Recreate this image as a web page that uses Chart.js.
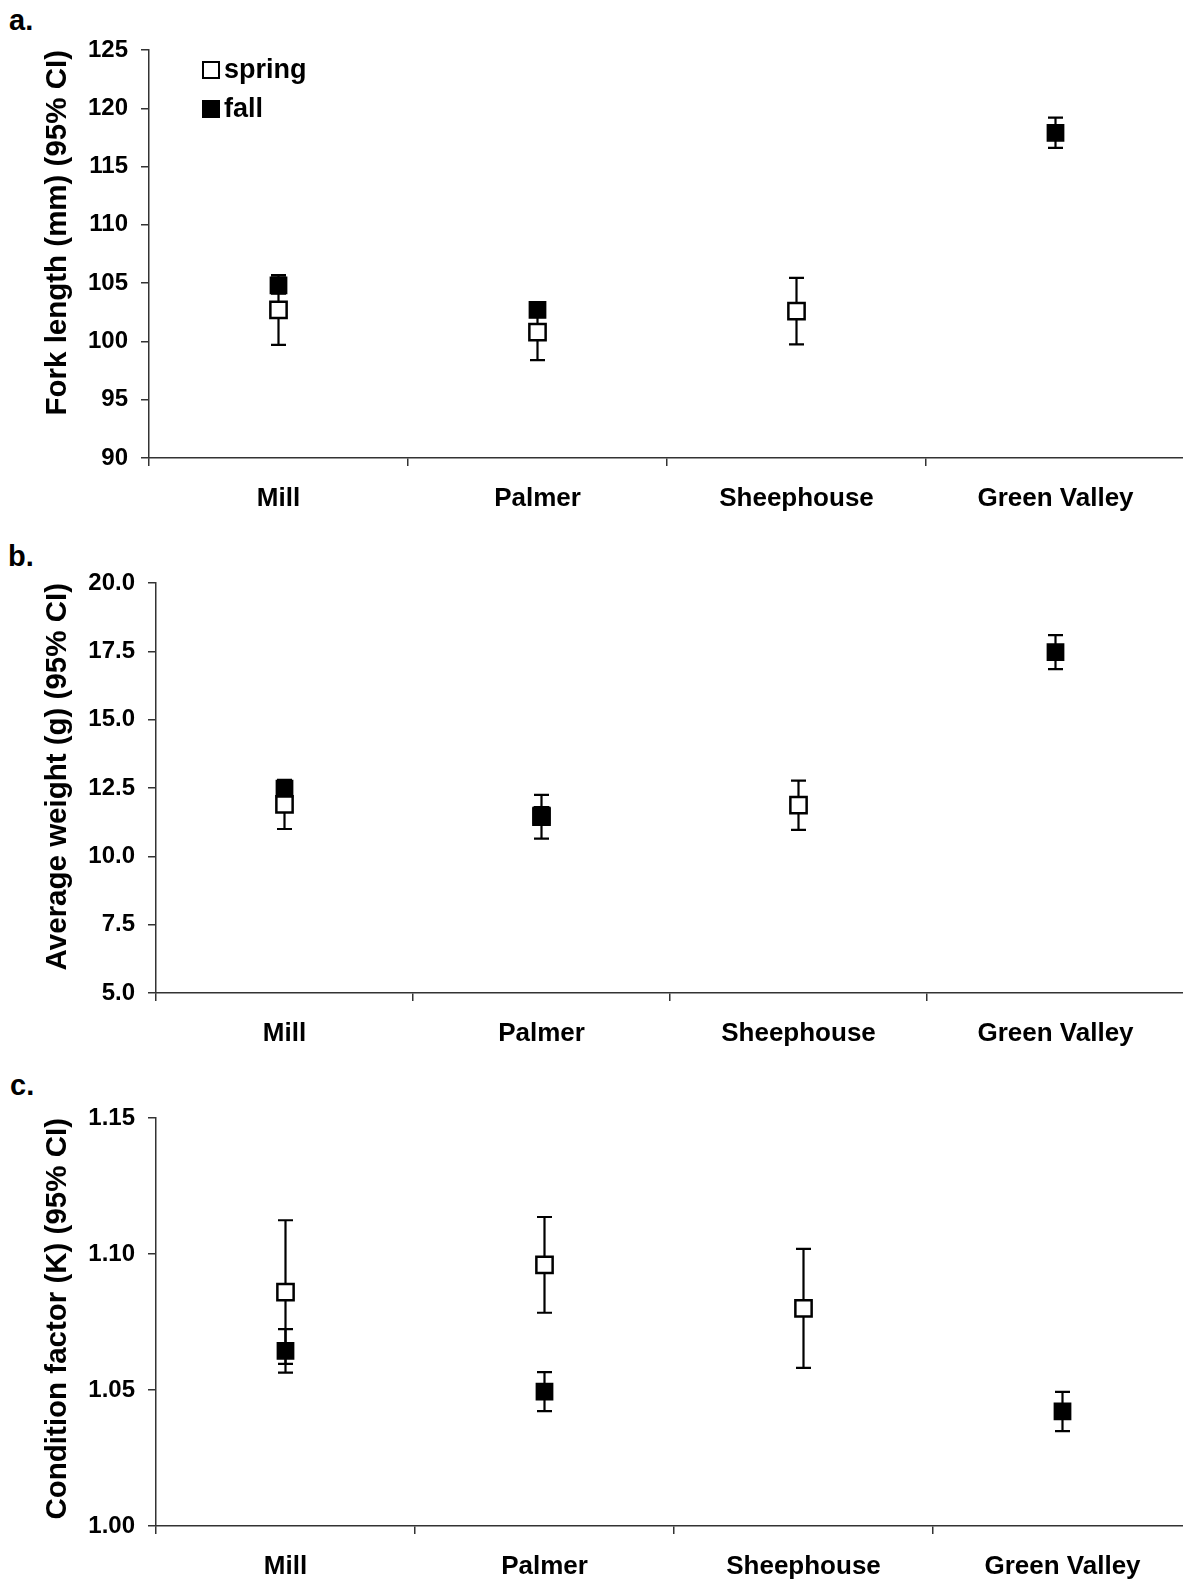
<!DOCTYPE html>
<html>
<head>
<meta charset="utf-8">
<script src="https://cdn.jsdelivr.net/npm/chart.js@4.4.0/dist/chart.umd.min.js"></script>
<style>
  body { margin: 0; background: #fff; width: 1183px; height: 1580px; overflow: hidden; position: relative; }
  canvas { position: absolute; left: 0; }
  .tag { position: absolute; font: bold 29px "Liberation Sans", Arial, sans-serif; line-height: 29px; color: #000; }
</style>
</head>
<body>
<div class="tag" style="left:9px; top:6px">a.</div>
<div class="tag" style="left:8px; top:542px">b.</div>
<div class="tag" style="left:10px; top:1071px">c.</div>
<canvas id="panelA"></canvas>
<canvas id="panelB"></canvas>
<canvas id="panelC"></canvas>
<script>
// Sites and seasons
var sites = ['Mill', 'Palmer', 'Sheephouse', 'Green Valley'];
var seasons = ['spring', 'fall'];

// a. fork length (mm), mean and 95% CI half-width
var lengthSpring = [102.7, 100.8, 102.6, null];
var lengthSpringCI = [3.0, 2.4, 2.85, null];
var lengthFall = [104.8, 102.7, null, 117.9];
var lengthFallCI = [0.7, 0.6, null, 1.3];
var lengthRange = [90, 125, 5];

// b. average weight (g)
var weightSpring = [11.9, 11.45, 11.87, null];
var weightSpringCI = [0.9, 0.8, 0.9, null];
var weightFall = [12.48, 11.5, null, 17.47];
var weightFallCI = [0.3, 0.3, null, 0.62];
var weightRange = [5, 20, 2.5];

// c. condition factor (K)
var kSpring = [1.086, 1.096, 1.080, null];
var kSpringCI = [0.0264, 0.0176, 0.0219, null];
var kFall = [1.0644, 1.0494, null, 1.0421];
var kFallCI = [0.008, 0.0072, null, 0.0072];
var kRange = [1.00, 1.15, 0.05];

var FONT = '"Liberation Sans", Arial, sans-serif';

// whiskers drawn under the markers
var errorBars = {
    id: 'errorBars',
    beforeDatasetsDraw: function (chart) {
        var ctx = chart.ctx, x = chart.scales.x, y = chart.scales.y;
        ctx.save();
        ctx.strokeStyle = '#000';
        ctx.lineWidth = 2.2;
        chart.data.datasets.forEach(function (ds) {
            ds.data.forEach(function (v, i) {
                if (v == null) return;
                var px = x.getPixelForValue(i);
                var top = y.getPixelForValue(v + ds.ci[i]);
                var bot = y.getPixelForValue(v - ds.ci[i]);
                ctx.beginPath();
                ctx.moveTo(px, top); ctx.lineTo(px, bot);
                ctx.moveTo(px - 7.5, top); ctx.lineTo(px + 7.5, top);
                ctx.moveTo(px - 7.5, bot); ctx.lineTo(px + 7.5, bot);
                ctx.stroke();
            });
        });
        ctx.restore();
    }
};

// legend in the top-left corner of the plot area
var seasonKey = {
    id: 'seasonKey',
    afterDraw: function (chart) {
        var ctx = chart.ctx, area = chart.chartArea;
        ctx.save();
        ctx.font = 'bold 27px ' + FONT;
        ctx.textBaseline = 'middle';
        chart.data.datasets.forEach(function (ds, i) {
            var bx = area.left + 54, cy = area.top + 20 + i * 39;
            ctx.fillStyle = ds.pointBackgroundColor;
            ctx.fillRect(bx, cy - 8, 16, 16);
            ctx.strokeStyle = '#000';
            ctx.lineWidth = 2;
            ctx.strokeRect(bx, cy - 8, 16, 16);
            ctx.fillStyle = '#000';
            ctx.fillText(ds.label, bx + 21, cy + 1);
        });
        ctx.restore();
    }
};

function buildPanel(o) {
    var canvas = document.getElementById(o.id);
    canvas.width = o.width;
    canvas.height = o.height;
    canvas.style.top = o.top + 'px';
    var pt = function (bg, bw) {
        return { pointStyle: 'rect', pointRadius: 11.5, pointHoverRadius: 11.5,
                 pointBackgroundColor: bg, pointBorderColor: '#000', pointBorderWidth: bw,
                 showLine: false };
    };
    return new Chart(canvas, {
        type: 'line',
        data: {
            labels: sites,
            datasets: [
                Object.assign({ label: seasons[0], data: o.spring, ci: o.springCI, order: 1 }, pt('#fff', 2.5)),
                Object.assign({ label: seasons[1], data: o.fall, ci: o.fallCI, order: 0 }, pt('#000', 1.5))
            ]
        },
        options: {
            responsive: false,
            animation: false,
            devicePixelRatio: 1,
            layout: { autoPadding: false,
                      padding: { top: o.areaTop, right: o.width - o.areaRight, left: 0, bottom: 0 } },
            plugins: { legend: { display: false }, tooltip: { enabled: false } },
            scales: {
                x: {
                    type: 'category',
                    offset: true,
                    grid: { offset: true, drawOnChartArea: false, tickLength: 8, color: '#333', lineWidth: 1.5 },
                    border: { color: '#333', width: 1.5 },
                    ticks: { padding: 17, color: '#000', autoSkip: false, maxRotation: 0,
                             font: { family: FONT, size: 26, weight: 'bold' } },
                    afterFit: function (s) {
                        s.height = o.height - o.areaBottom;
                        s.paddingLeft = 0;
                        s.paddingRight = 0;
                    }
                },
                y: {
                    min: o.range[0],
                    max: o.range[1],
                    grid: { drawOnChartArea: false, tickLength: 8, color: '#333', lineWidth: 1.5 },
                    border: { color: '#333', width: 1.5 },
                    ticks: { stepSize: o.range[2], padding: 13, color: '#000',
                             font: { family: FONT, size: 24, weight: 'bold' },
                             callback: function (v) { return v.toFixed(o.decimals); } },
                    title: { display: true, text: o.title, align: 'end', color: '#000',
                             padding: { top: 40, bottom: 0 },
                             font: { family: FONT, size: 29.5, weight: 'bold' } },
                    afterFit: function (s) { s.width = o.areaLeft; }
                }
            }
        },
        plugins: o.key ? [errorBars, seasonKey] : [errorBars]
    });
}

buildPanel({
    id: 'panelA', top: 0, width: 1188, height: 530,
    areaLeft: 149, areaRight: 1185, areaTop: 50, areaBottom: 458,
    range: lengthRange, decimals: 0, title: 'Fork length (mm) (95% CI)',
    spring: lengthSpring, springCI: lengthSpringCI, fall: lengthFall, fallCI: lengthFallCI,
    key: true
});

buildPanel({
    id: 'panelB', top: 530, width: 1186, height: 535,
    areaLeft: 156, areaRight: 1184, areaTop: 53, areaBottom: 463,
    range: weightRange, decimals: 1, title: 'Average weight (g) (95% CI)',
    spring: weightSpring, springCI: weightSpringCI, fall: weightFall, fallCI: weightFallCI
});

buildPanel({
    id: 'panelC', top: 1065, width: 1194, height: 515,
    areaLeft: 156, areaRight: 1192, areaTop: 53, areaBottom: 461,
    range: kRange, decimals: 2, title: 'Condition factor (K) (95% CI)',
    spring: kSpring, springCI: kSpringCI, fall: kFall, fallCI: kFallCI
});
</script>
</body>
</html>
